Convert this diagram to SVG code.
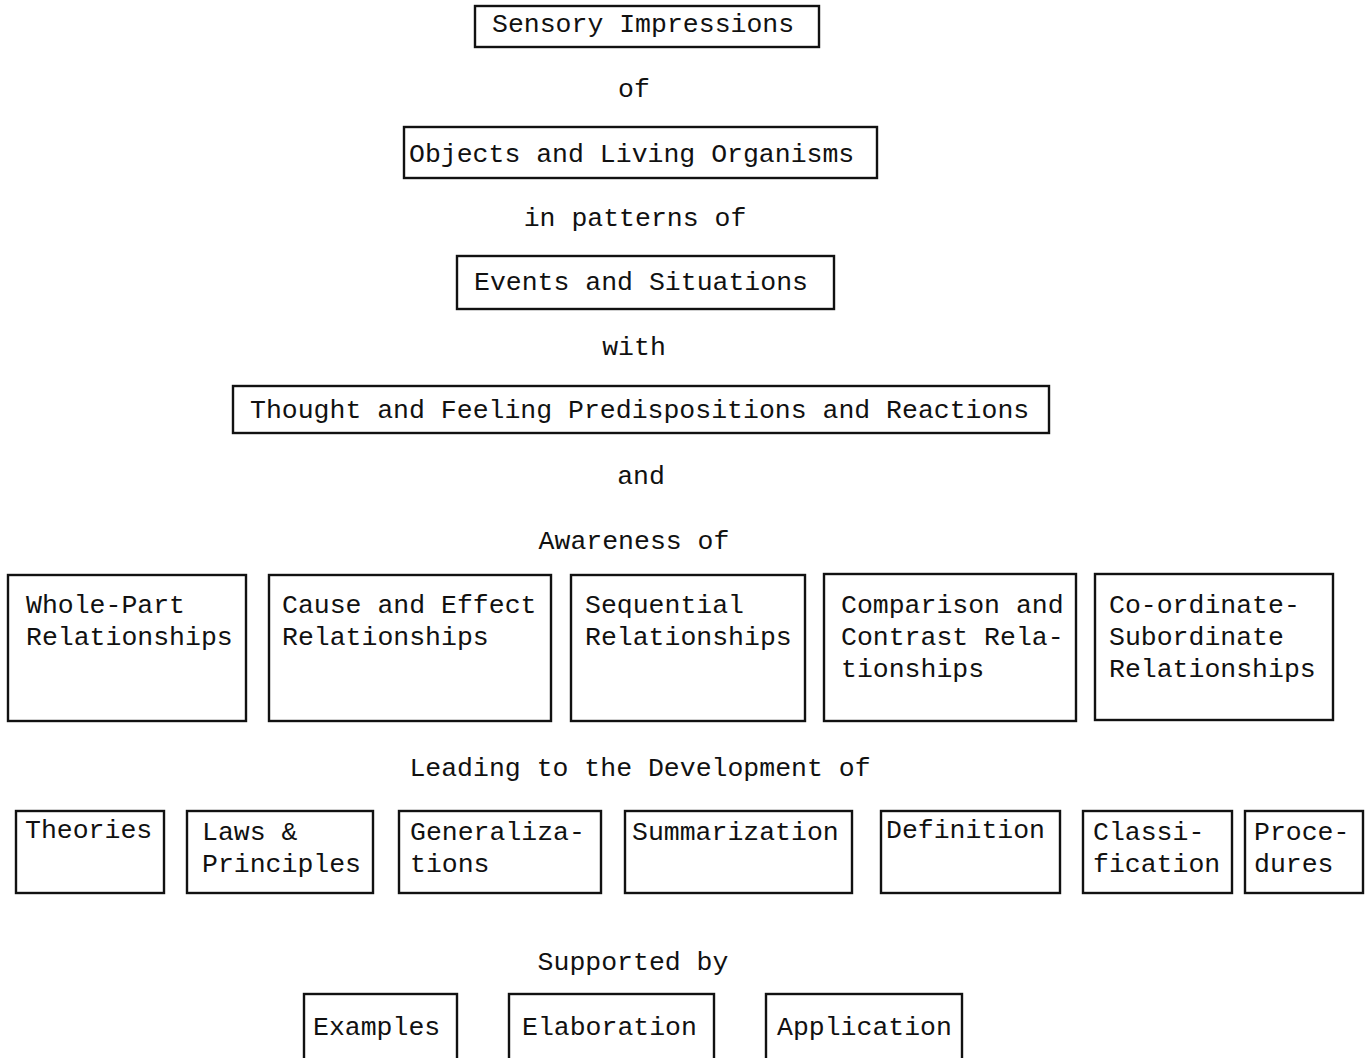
<svg xmlns="http://www.w3.org/2000/svg" width="1366" height="1058" viewBox="0 0 1366 1058">
<style>
text{font-family:"Liberation Mono","DejaVu Sans Mono",monospace;font-size:26.5px;fill:#111}
.box{fill:none;stroke:#111;stroke-width:2.4}
.c{text-anchor:middle}
</style>
<rect width="1366" height="1058" fill="#fff"/>
<g id="n-sensory"><rect class="box" x="475" y="6" width="344" height="41"/><text x="492" y="32">Sensory Impressions</text></g>
<g id="t-of"><text class="c" x="634" y="97">of</text></g>
<g id="n-objects"><rect class="box" x="404" y="127" width="473" height="51"/><text x="409" y="162">Objects and Living Organisms</text></g>
<g id="t-patterns"><text class="c" x="635" y="226">in patterns of</text></g>
<g id="n-events"><rect class="box" x="457" y="256" width="377" height="53"/><text x="474" y="290">Events and Situations</text></g>
<g id="t-with"><text class="c" x="634" y="355">with</text></g>
<g id="n-thought"><rect class="box" x="233" y="386" width="816" height="47"/><text x="250" y="418">Thought and Feeling Predispositions and Reactions</text></g>
<g id="t-and"><text class="c" x="641" y="484">and</text></g>
<g id="t-awareness"><text class="c" x="634" y="549">Awareness of</text></g>
<g id="n-wholepart"><rect class="box" x="8" y="575" width="238" height="146"/><text x="26" y="613">Whole-Part</text><text x="26" y="645">Relationships</text></g>
<g id="n-cause"><rect class="box" x="269" y="575" width="282" height="146"/><text x="282" y="613">Cause and Effect</text><text x="282" y="645">Relationships</text></g>
<g id="n-sequential"><rect class="box" x="571" y="575" width="234" height="146"/><text x="585" y="613">Sequential</text><text x="585" y="645">Relationships</text></g>
<g id="n-comparison"><rect class="box" x="824" y="574" width="252" height="147"/><text x="841" y="613">Comparison and</text><text x="841" y="645">Contrast Rela-</text><text x="841" y="677">tionships</text></g>
<g id="n-coordinate"><rect class="box" x="1095" y="574" width="238" height="146"/><text x="1109" y="613">Co-ordinate-</text><text x="1109" y="645">Subordinate</text><text x="1109" y="677">Relationships</text></g>
<g id="t-leading"><text class="c" x="640" y="776">Leading to the Development of</text></g>
<g id="n-theories"><rect class="box" x="16" y="811" width="148" height="82"/><text x="25" y="838">Theories</text></g>
<g id="n-laws"><rect class="box" x="187" y="811" width="186" height="82"/><text x="202" y="840">Laws &amp;</text><text x="202" y="872">Principles</text></g>
<g id="n-general"><rect class="box" x="399" y="811" width="202" height="82"/><text x="410" y="840">Generaliza-</text><text x="410" y="872">tions</text></g>
<g id="n-summ"><rect class="box" x="625" y="811" width="227" height="82"/><text x="632" y="840">Summarization</text></g>
<g id="n-def"><rect class="box" x="881" y="811" width="179" height="82"/><text x="886" y="838">Definition</text></g>
<g id="n-class"><rect class="box" x="1083" y="811" width="149" height="82"/><text x="1093" y="840">Classi-</text><text x="1093" y="872">fication</text></g>
<g id="n-proc"><rect class="box" x="1245" y="811" width="118" height="82"/><text x="1254" y="840">Proce-</text><text x="1254" y="872">dures</text></g>
<g id="t-supported"><text class="c" x="633" y="970">Supported by</text></g>
<g id="n-examples"><rect class="box" x="304" y="994" width="153" height="80"/><text x="313" y="1035">Examples</text></g>
<g id="n-elab"><rect class="box" x="509" y="994" width="205" height="80"/><text x="522" y="1035">Elaboration</text></g>
<g id="n-app"><rect class="box" x="766" y="994" width="196" height="80"/><text x="777" y="1035">Application</text></g>
<g id="connectors"></g>
</svg>
